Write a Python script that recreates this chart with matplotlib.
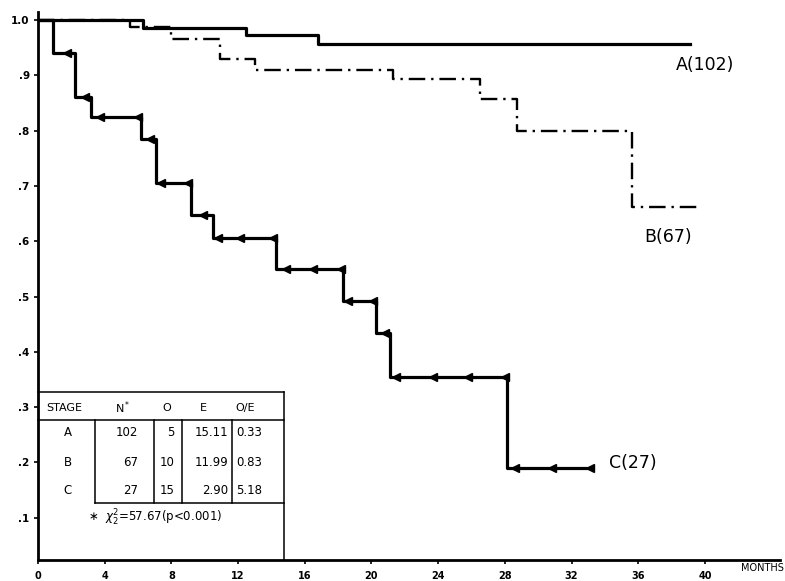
import matplotlib
matplotlib.use("Agg")
import matplotlib.pyplot as plt
from matplotlib.lines import Line2D
import numpy as np

# survival curves (months, cumulative survival), step after each time
a_t = [0, 6.3, 12.5, 16.8, 39.1]
a_s = [1.0, 0.985, 0.973, 0.957, 0.957]

b_t = [0, 5.5, 8.0, 10.9, 13.0, 21.3, 26.5, 28.7, 35.6, 39.8]
b_s = [1.0, 0.987, 0.966, 0.93, 0.91, 0.893, 0.857, 0.80, 0.662, 0.662]

c_t = [0, 0.9, 2.2, 3.2, 6.2, 7.1, 9.2, 10.5, 14.3, 18.3, 20.3, 21.1, 28.1, 33.1]
c_s = [1.0, 0.94, 0.861, 0.825, 0.785, 0.705, 0.647, 0.606, 0.55, 0.492,
       0.434, 0.355, 0.19, 0.19]
# censored patients in stage C
c_cens = [1.74, 2.82, 3.72, 6.0, 6.7, 7.4, 9.0, 9.9, 10.8, 12.1, 14.1, 14.9,
          16.5, 18.2, 18.6, 20.1, 20.8, 21.5, 23.7, 25.8, 28.0, 28.6, 30.8, 33.1]

curve_labels = ["A(102)", "B(67)", "C(27)"]
label_pos = [(40.0, 0.919), (37.8, 0.608), (35.7, 0.199)]

# log-rank table
stages = ["A", "B", "C"]
n_pat = [102, 67, 27]
observed = [5, 10, 15]
expected = [15.11, 11.99, 2.90]
ratio = [0.33, 0.83, 5.18]
chi_text = r"$\ast$  $\chi^2_2$=57.67(p<0.001)"

x_ticks = list(range(0, 41, 4))
y_ticks = [0.1, 0.2, 0.3, 0.4, 0.5, 0.6, 0.7, 0.8, 0.9, 1.0]
y_ticklabels = [".1", ".2", ".3", ".4", ".5", ".6", ".7", ".8", ".9", "1.0"]

W, H = 785.0, 581.0
fig = plt.figure(figsize=(W / 100, H / 100), dpi=100)
ax = fig.add_axes([38 / W, 1 - 560 / H, 742 / W, 548 / H])

ax.plot(b_t, b_s, drawstyle="steps-post", color="k", lw=1.7,
        dashes=(7, 2.5, 1, 2.5), zorder=2)
ax.plot(a_t, a_s, drawstyle="steps-post", color="k", lw=2.3, zorder=3)
ax.plot(c_t, c_s, drawstyle="steps-post", color="k", lw=2.3, zorder=3)
idx = np.searchsorted(c_t, c_cens, side="right") - 1
ax.plot(c_cens, np.array(c_s)[idx], ls="none", marker="<", ms=5.5,
        color="k", zorder=4)

for lab, (tx, ty) in zip(curve_labels, label_pos):
    ax.text(tx, ty, lab, fontsize=12.5, ha="center", va="center")

ax.set_xlim(0, 44.5)
ax.set_ylim(0.0235, 1.0145)
ax.set_xticks(x_ticks)
ax.set_xticklabels([str(t) for t in x_ticks], fontsize=7, fontweight="bold")
ax.set_yticks(y_ticks)
ax.set_yticklabels(y_ticklabels, fontsize=7.5, fontweight="bold")
ax.tick_params(axis="x", length=3, width=1.2, pad=5)
ax.tick_params(axis="y", length=3, width=1.2, pad=3)
for side in ["top", "right"]:
    ax.spines[side].set_visible(False)
for side in ["left", "bottom"]:
    ax.spines[side].set_linewidth(2)
ax.text(784 / W, 1 - 568 / H, "MONTHS", transform=fig.transFigure,
        fontsize=7, ha="right", va="center")


def px(x, y):
    return x / W, 1 - y / H


def rule(x0, y0, x1, y1):
    (fx0, fy0), (fx1, fy1) = px(x0, y0), px(x1, y1)
    fig.add_artist(Line2D([fx0, fx1], [fy0, fy1], transform=fig.transFigure,
                          color="k", lw=1.1))


def put(x, y, s, ha="center", size=8):
    fx, fy = px(x, y)
    fig.text(fx, fy, s, ha=ha, va="center", fontsize=size)


# table frame
rule(38, 392, 284, 392)
rule(284, 392, 284, 560)
rule(38, 420, 284, 420)
rule(95, 420, 95, 503)
rule(95, 503, 284, 503)
for xv in [154, 182, 232]:
    rule(xv, 420, xv, 503)

put(64, 408, "STAGE")
put(123, 408, r"N$^*$")
put(167, 408, "O")
put(203, 408, "E")
put(245, 408, "O/E")
for i, y in enumerate([432, 462, 490]):
    put(68, y, stages[i], size=8.5)
    put(138, y, str(n_pat[i]), ha="right", size=8.5)
    put(175, y, str(observed[i]), ha="right", size=8.5)
    put(228, y, "%.2f" % expected[i], ha="right", size=8.5)
    put(236, y, "%.2f" % ratio[i], ha="left", size=8.5)
put(88, 518, chi_text, ha="left", size=8.5)

fig.savefig("out.png", dpi=100)
